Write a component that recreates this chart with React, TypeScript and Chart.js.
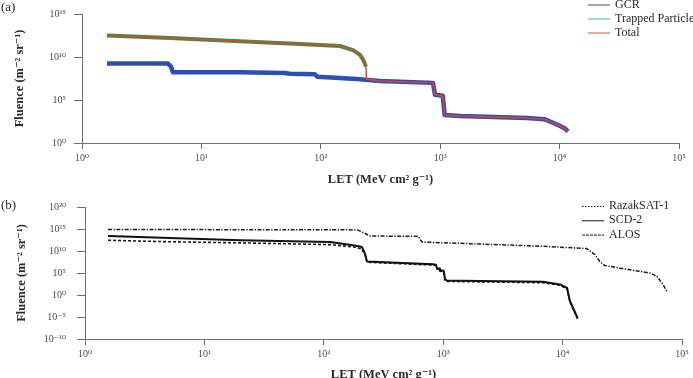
import { useEffect, useRef } from "react";
import { Chart, registerables } from "chart.js";

Chart.register(...registerables);

const SERIF = "'Liberation Serif', 'DejaVu Serif', serif";
const AXIS = "#6f6f6f";
const TICK = "#4a4a4a";
const TEXT = "#2a2a2a";

// ---- shared tick values ----
const letTicks = [1, 10, 100, 1000, 10000, 100000];
const fluenceTicksA = [1, 1e5, 1e10, 1e15];
const fluenceTicksB = [1e-10, 1e-5, 1, 1e5, 1e10, 1e15, 1e20];

// ---- panel (a): LET spectra by source ----
const gcrLet = [1.62, 5.25, 5.56, 5.78, 21, 50, 55, 89, 94, 200, 314, 870, 905, 1050, 1090, 1465, 5330, 7540, 8800, 10000, 11100, 11760];
const gcrFluence = [1.74e9, 1.74e9, 7.9e8, 1.7e8, 1.7e8, 1.41e8, 1.12e8, 1e8, 5e7, 2.75e7, 1.66e7, 9.8e6, 4e5, 3.2e5, 1.8e3, 1.4e3, 830, 560, 224, 100, 48, 22];

const trappedLet = [1.62, 5.46, 21, 67, 145, 186, 213, 226, 239];
const trappedFluence = [3.16e12, 1.58e12, 6.9e11, 3.16e11, 1.9e11, 6.3e10, 1.8e10, 5e9, 7.9e8];

const totalLet = [1.62, 5.46, 21, 67, 145, 186, 213, 226, 239, 241, 314, 870, 905, 1050, 1090, 1465, 5330, 7540, 8800, 10000, 11100, 11760];
const totalFluence = [3.16e12, 1.58e12, 6.9e11, 3.16e11, 1.9e11, 6.3e10, 1.8e10, 5e9, 7.9e8, 2.7e7, 1.66e7, 9.8e6, 4e5, 3.2e5, 1.8e3, 1.4e3, 830, 560, 224, 100, 48, 22];

// ---- panel (b): LET spectra by satellite ----
const razakLet = [1.56, 5.15, 19.9, 113, 176, 205, 221, 230, 822, 870, 887, 930, 940, 1010, 1035, 1070, 1400, 6850, 9500, 10900, 11500, 13400];
const razakFluence = [2.7e12, 1.26e12, 7.1e11, 2.8e11, 8.9e10, 3.2e10, 2e9, 2.8e7, 6.3e6, 5e6, 7.9e5, 6.3e5, 2.5e5, 2e5, 2.5e3, 1.26e3, 1.1e3, 630, 160, 25, 3e-2, 2.8e-6];

const scdLet = [1.56, 5.15, 19.9, 113, 176, 209, 221, 230, 822, 870, 887, 930, 940, 1010, 1035, 1070, 1400, 6850, 9500, 10900, 11500, 13400];
const scdFluence = [2.5e13, 8.9e12, 2.7e12, 1.1e12, 2e11, 7.9e10, 2.8e9, 4e7, 1e7, 7.9e6, 1.26e6, 1e6, 4e5, 3.2e5, 4e3, 2e3, 1.8e3, 1e3, 250, 40, 5e-2, 4.5e-6];

const alosLet = [1.56, 190, 210, 244, 616, 665, 6460, 15900, 18700, 20500, 22600, 30300, 54000, 61600, 68000, 74600];
const alosFluence = [7.9e14, 6.3e14, 2e14, 2.5e13, 2.2e13, 1.1e12, 1.26e11, 3.6e10, 1.4e9, 4e7, 5e6, 1.26e6, 1e5, 1.8e4, 560, 7.9];

const SUP: Record<string, string> = {
  "0": "⁰", "1": "¹", "2": "²", "3": "³", "4": "⁴",
  "5": "⁵", "6": "⁶", "7": "⁷", "8": "⁸", "9": "⁹", "-": "⁻",
};

function powLabel(v: number): string {
  const e = Math.round(Math.log10(v));
  return "10" + String(e).split("").map((c) => SUP[c] ?? c).join("");
}

function pts(xs: number[], ys: number[]) {
  return xs.map((x, i) => ({ x, y: ys[i] }));
}

// Legend with short line samples plus the panel tag, drawn on top of the plot.
const lineLegend = {
  id: "lineLegend",
  afterDraw(chart: any, _args: any, opts: any) {
    const { ctx } = chart;
    ctx.save();
    ctx.font = `${opts.fontSize}px ${SERIF}`;
    ctx.textBaseline = "middle";
    ctx.textAlign = "left";
    chart.data.datasets.forEach((ds: any, i: number) => {
      const y = opts.y + i * opts.rowGap;
      ctx.beginPath();
      ctx.strokeStyle = ds.legendColor ?? ds.borderColor;
      ctx.lineWidth = ds.legendWidth ?? 1;
      ctx.setLineDash(ds.legendDash ?? []);
      ctx.moveTo(opts.x, y + 0.5);
      ctx.lineTo(opts.x + opts.sampleWidth, y + 0.5);
      ctx.stroke();
      ctx.setLineDash([]);
      ctx.fillStyle = TEXT;
      ctx.fillText(ds.label, opts.x + opts.sampleWidth + opts.textGap, y);
    });
    ctx.font = `13px ${SERIF}`;
    ctx.fillStyle = TEXT;
    ctx.fillText(opts.tag, 1, opts.tagY);
    ctx.restore();
  },
};

type PanelSpec = {
  datasets: any[];
  yMin: number;
  yMax: number;
  yTicks: number[];
  yAxisWidth: number;
  xAxisHeight: number;
  padTop: number;
  padRight: number;
  yTickPadding: number;
  yTitlePad: number;
  xTitlePad: number;
  legend: any;
};

function buildConfig(p: PanelSpec): any {
  return {
    type: "line",
    data: { datasets: p.datasets },
    plugins: [lineLegend],
    options: {
      responsive: false,
      animation: false,
      devicePixelRatio: 1,
      layout: { padding: { left: 0, top: p.padTop, right: p.padRight, bottom: 0 } },
      elements: { point: { radius: 0 }, line: { tension: 0 } },
      plugins: {
        legend: { display: false },
        tooltip: { enabled: false },
        lineLegend: p.legend,
      },
      scales: {
        x: {
          type: "logarithmic",
          min: 1,
          max: 1e5,
          afterBuildTicks: (s: any) => {
            s.ticks = letTicks.map((value) => ({ value }));
          },
          afterFit: (s: any) => {
            s.height = p.xAxisHeight;
          },
          grid: { drawOnChartArea: false, drawTicks: true, tickLength: 6, color: AXIS },
          border: { display: true, color: AXIS, width: 1 },
          ticks: {
            callback: (v: any) => powLabel(Number(v)),
            font: { family: SERIF, size: 10 },
            color: TICK,
            padding: 3,
            maxRotation: 0,
            autoSkip: false,
          },
          title: {
            display: true,
            text: "LET (MeV cm² g⁻¹)",
            font: { family: SERIF, size: 12.5, weight: "bold" },
            color: TEXT,
            padding: { top: 0, bottom: p.xTitlePad },
          },
        },
        y: {
          type: "logarithmic",
          min: p.yMin,
          max: p.yMax,
          afterBuildTicks: (s: any) => {
            s.ticks = p.yTicks.map((value) => ({ value }));
          },
          afterFit: (s: any) => {
            s.width = p.yAxisWidth;
          },
          grid: { drawOnChartArea: false, drawTicks: true, tickLength: 8, color: AXIS },
          border: { display: true, color: AXIS, width: 1 },
          ticks: {
            callback: (v: any) => powLabel(Number(v)),
            font: { family: SERIF, size: 10 },
            color: TICK,
            padding: p.yTickPadding,
            autoSkip: false,
          },
          title: {
            display: true,
            text: "Fluence (m⁻² sr⁻¹)",
            font: { family: SERIF, size: 12.5, weight: "bold" },
            color: TEXT,
            padding: { top: p.yTitlePad, bottom: 0 },
          },
        },
      },
    },
  };
}

const panelA: PanelSpec = {
  datasets: [
    {
      label: "GCR",
      data: pts(gcrLet, gcrFluence),
      borderColor: "#2d4fb2",
      borderWidth: 4.5,
      borderJoinStyle: "round",
      order: 1,
      legendColor: "#3d4c9e",
      legendWidth: 1,
    },
    {
      label: "Trapped Particle",
      data: pts(trappedLet, trappedFluence),
      borderColor: "#3a8f4c",
      borderWidth: 4,
      borderJoinStyle: "round",
      order: 2,
      legendColor: "#3cc290",
      legendWidth: 1,
    },
    {
      label: "Total",
      data: pts(totalLet, totalFluence),
      borderColor: "#e0452f",
      borderWidth: 1.5,
      order: 0,
      legendColor: "#d9553f",
      legendWidth: 1,
    },
  ],
  yMin: 1,
  yMax: 1e15,
  yTicks: fluenceTicksA,
  yAxisWidth: 82,
  xAxisHeight: 47,
  padTop: 10,
  padRight: 14,
  yTickPadding: 8,
  yTitlePad: 12,
  xTitlePad: 3,
  legend: { x: 588, y: 4.5, rowGap: 14, sampleWidth: 22, textGap: 5, fontSize: 12, tag: "(a)", tagY: 8 },
};

const panelB: PanelSpec = {
  datasets: [
    {
      label: "RazakSAT-1",
      data: pts(razakLet, razakFluence),
      borderColor: "#1a1a1a",
      borderWidth: 1.6,
      borderDash: [3, 2],
      order: 1,
      legendWidth: 1,
      legendDash: [1.5, 1.5],
    },
    {
      label: "SCD-2",
      data: pts(scdLet, scdFluence),
      borderColor: "#111111",
      borderWidth: 2,
      borderJoinStyle: "round",
      order: 0,
      legendWidth: 1,
    },
    {
      label: "ALOS",
      data: pts(alosLet, alosFluence),
      borderColor: "#1a1a1a",
      borderWidth: 1.5,
      borderDash: [4, 1.5, 1.3, 1.5],
      order: 2,
      legendWidth: 1,
      legendDash: [3, 1],
    },
  ],
  yMin: 1e-10,
  yMax: 1e20,
  yTicks: fluenceTicksB,
  yAxisWidth: 85,
  xAxisHeight: 51,
  padTop: 15,
  padRight: 11,
  yTickPadding: 11,
  yTitlePad: 14,
  xTitlePad: 8,
  legend: { x: 582, y: 16, rowGap: 14.3, sampleWidth: 22, textGap: 5, fontSize: 12, tag: "(b)", tagY: 16 },
};

function Panel({ spec, top, height }: { spec: PanelSpec; top: number; height: number }) {
  const ref = useRef<HTMLCanvasElement | null>(null);
  useEffect(() => {
    if (!ref.current) return;
    const chart = new Chart(ref.current, buildConfig(spec));
    return () => chart.destroy();
  }, [spec]);
  return (
    <canvas
      ref={ref}
      width={693}
      height={height}
      style={{ position: "absolute", left: 0, top, width: 693, height, display: "block" }}
    />
  );
}

export default function App() {
  return (
    <div
      style={{
        position: "fixed",
        left: 0,
        top: 0,
        width: 693,
        height: 378,
        overflow: "hidden",
        background: "#ffffff",
      }}
    >
      <Panel spec={panelA} top={0} height={190} />
      <Panel spec={panelB} top={190} height={200} />
    </div>
  );
}
